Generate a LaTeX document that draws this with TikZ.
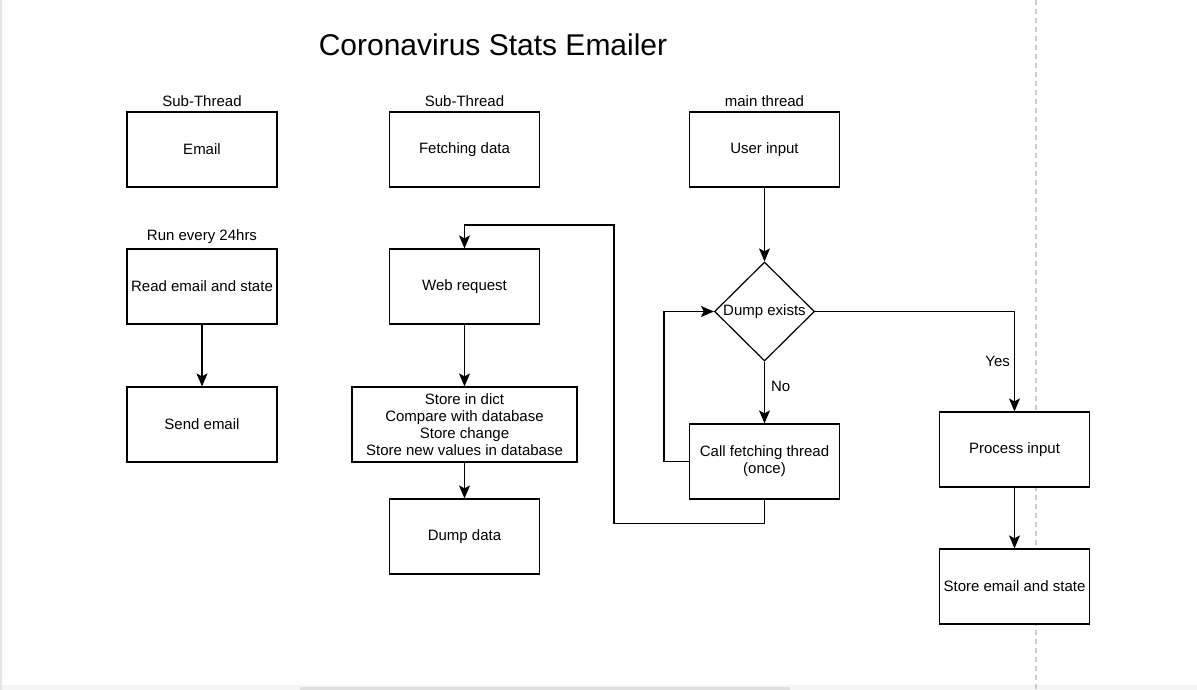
\documentclass[tikz,border=0pt]{standalone}
\usepackage{fontspec}
\setmainfont{Liberation Sans}
\usetikzlibrary{shapes.geometric,arrows.meta,positioning}

\begin{document}
\begin{tikzpicture}[x=1pt,y=-1pt,
    box/.style={draw, fill=white, line width=1.2pt, minimum width=150pt, minimum height=75pt, inner sep=1pt, align=center, font=\fontsize{15}{17}\selectfont},
    dec/.style={draw, fill=white, diamond, line width=1.2pt, minimum width=100pt, minimum height=99pt, inner sep=0pt},
    txt/.style={font=\fontsize{15}{17}\selectfont, inner sep=2pt},
    arr/.style={-{Stealth[length=13pt,width=11pt,inset=3pt]}, line width=1.2pt}]
    \useasboundingbox (0,0) rectangle (1197,690);
    \fill[gray!8] (0,685) rectangle (1197,690);
    \fill[gray!25] (300,687) rectangle (790,690);
    \fill[gray!20] (0,0) rectangle (1.5,690);
    \draw[gray!40, line width=1.2pt, dash pattern=on 5pt off 4pt] (1036,0) -- (1036,690);
    % title
    \node[font=\fontsize{30}{36}\selectfont] (title) at (493,45) {Coronavirus Stats Emailer};
    % email thread
    \node[box] (email) at (202,149.5) {Email};
    \node[txt, above=2.5pt of email] (emailhead) {Sub-Thread};
    \node[box] (read) at (202,286.5) {Read email and state};
    \node[txt, above=2.5pt of read] (readhead) {Run every 24hrs};
    \node[box] (send) at (202,424.5) {Send email};
    % fetching thread
    \node[box] (fetch) at (464.5,149.5) {Fetching data};
    \node[txt, above=2.5pt of fetch] (fetchhead) {Sub-Thread};
    \node[box] (web) at (464.5,286.5) {Web request};
    \node[box, minimum width=225pt] (store) at (464.5,424.5) {Store in dict\\Compare with database\\Store change\\Store new values in database};
    \node[box] (dump) at (464.5,536.5) {Dump data};
    % main thread
    \node[box] (user) at (764.5,149.5) {User input};
    \node[txt, above=2.5pt of user] (userhead) {main thread};
    \node[dec, label={[txt]center:Dump exists}] (exists) at (764.5,311.5) {};
    \node[box] (call) at (764.5,461.5) {Call fetching thread\\(once)};
    \node[box] (proc) at (1014.5,449.5) {Process input};
    \node[box] (save) at (1014.5,586.5) {Store email and state};
    \coordinate (back) at (614,225);

    \draw[arr] (read) -- (send);
    \draw[arr] (web) -- (store);
    \draw[arr] (store) -- (dump);
    \draw[arr] (call.south) -- ++(0,24) -| (back) -| (web.north);
    \draw[arr] (user) -- (exists);
    \draw[arr] (exists) -- node[txt, right=4pt, pos=0.4] {No} (call);
    \draw[arr] (call.west) -- ++(-25,0) |- (exists.west);
    \draw[arr] (exists.east) -| node[txt, left=2pt, pos=0.75] {Yes} (proc.north);
    \draw[arr] (proc) -- (save);
\end{tikzpicture}
\end{document}
